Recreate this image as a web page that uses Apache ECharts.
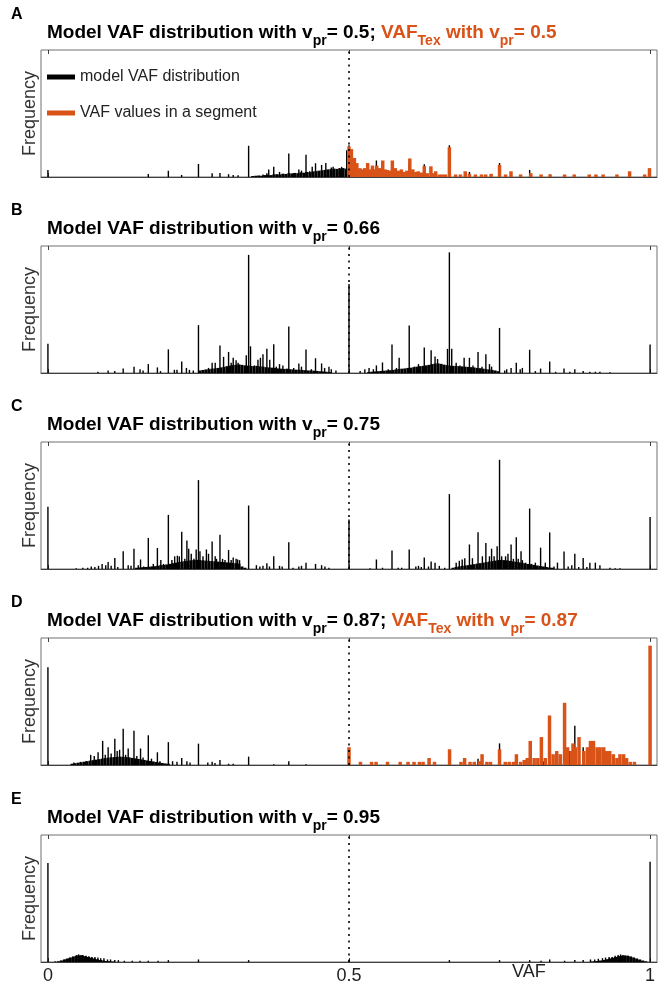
<!DOCTYPE html>
<html>
<head>
<meta charset="utf-8">
<script src="https://cdn.jsdelivr.net/npm/echarts@6/dist/echarts.min.js"></script>
<style>
  html, body { margin: 0; background: #fff; }
  #chart { width: 660px; height: 985px; }
</style>
</head>
<body>
<div id="chart"></div>
<script>
// ---- data: [VAF, frequency (% of axis height)] ----
// panel A, v_pr = 0.5
const aBlack = [[0,5.5],[0.1667,2.4],[0.2,4.9],[0.222,1.6],[0.25,10.3],[0.2727,3],[0.2857,3.2],[0.3,2.2],[0.3077,1.6],[0.3158,1.4],
  [0.3333,24.6],[0.3571,2],[0.3636,3],[0.3667,6],[0.375,8],[0.3846,4],[0.4,18.6],[0.4074,3],[0.4167,6],[0.4211,5],[0.4286,17.6],
  [0.4348,4.5],[0.4389,8],[0.4444,10.8],[0.4545,9.5],[0.4615,11],[0.4706,7.5],[0.4737,8],[0.48,6],[0.4839,7],[0.4878,8],[0.4962,21],[0.5,25],
  [0.5455,13],[0.5714,10],[0.6,10],[0.625,10],[0.6667,25],[0.7,4],[0.75,11],[0.8,5.5],[0.8333,2],[1,4]];
const aBodyStart = 0.34;
const aBody = [0.8,1,1.2,1,1.5,1.8,1.5,2,2.2,2,2.6,2.4,3,2.8,3.2,3,3.6,3.4,4,3.8,4.4,4.6,5,5.2,5.6,6,6.2,6.6,6.4,6.8,7,6.6];
const aOrange = [[0.5,24],[0.504,22],[0.509,15],[0.513,11],[0.518,7],[0.522,6],[0.526,7],[0.531,11],[0.535,6],[0.539,9],[0.543,6],
  [0.546,9],[0.551,7],[0.556,13],[0.56,6],[0.564,5.5],[0.568,5],[0.572,13],[0.577,7],[0.582,5],[0.587,6],[0.591,4],[0.596,5],
  [0.601,14.6],[0.606,6],[0.611,4],[0.615,4.5],[0.62,3.5],[0.625,8.6],[0.63,3],[0.636,8.4],[0.64,3],[0.644,4.5],[0.65,2],[0.655,2],
  [0.66,2],[0.6667,23.5],[0.677,2],[0.685,2],[0.693,4.5],[0.7,2.5],[0.71,2],[0.72,2],[0.727,2],[0.736,2.5],[0.75,9.5],[0.76,2],
  [0.769,4.5],[0.785,2],[0.802,3],[0.819,2],[0.834,2],[0.858,2],[0.874,2],[0.899,2],[0.91,2],[0.922,2],[0.945,2],[0.966,4.5],[0.991,2],[0.999,7]];

// panel B, v_pr = 0.66
const bBlack = [[0,23],[0.083,1],[0.1,2],[0.111,1.5],[0.125,3.6],[0.143,5],[0.153,3],[0.158,2],[0.1667,7],[0.1818,4.4],[0.187,1.5],
  [0.2,18.6],[0.21,2.5],[0.2143,2.5],[0.2222,9],[0.23,4],[0.235,2.5],[0.2414,2],[0.25,37.7],[0.2667,4],[0.2727,8],[0.2778,8],
  [0.2857,21.6],[0.2917,12.7],[0.3,16.6],[0.3043,8],[0.3077,12],[0.3125,10],[0.3158,8],[0.3214,6],[0.3294,14],[0.3333,93],[0.3364,21],
  [0.3429,6],[0.3488,10.5],[0.3529,12],[0.3571,14.7],[0.3636,19],[0.3684,10.5],[0.375,22.7],[0.3793,5],[0.3846,7],[0.3902,6],[0.4,36.6],
  [0.4082,4],[0.4167,7.5],[0.4211,5],[0.4286,18.6],[0.4375,3],[0.4444,11.6],[0.4545,7.5],[0.4595,4],[0.4667,5],[0.4706,3],[0.4783,2],[0.5,70],
  [0.5185,1.5],[0.5263,3],[0.5333,4],[0.5405,3],[0.5455,6],[0.5556,8.3],[0.5652,3],[0.5714,22.4],[0.5789,4],[0.5833,12],[0.5882,3],
  [0.6,37.4],[0.6087,5],[0.6154,7],[0.625,20],[0.6316,6],[0.6364,18],[0.6429,13],[0.6471,11],[0.6538,7],[0.6636,19],[0.6667,95],[0.6706,19],
  [0.678,8],[0.6842,6],[0.6912,12],[0.7,12],[0.7059,6],[0.7143,16.6],[0.7209,5],[0.7273,14.7],[0.7333,7],[0.7368,5],[0.75,35.5],[0.7586,2],
  [0.7619,3],[0.7692,4],[0.7778,8],[0.7843,3],[0.7879,4],[0.8,18.3],[0.8095,1.5],[0.8182,3.5],[0.8333,9],[0.8431,1],[0.8571,3.6],[0.8667,1],
  [0.875,3],[0.8889,1.5],[0.9,1],[0.9091,1],[0.9167,1],[0.9333,0.5],[1,22.4]];
const bBodyLStart = 0.255;
const bBodyL = [2,2.4,2.8,3,3.4,3.6,4,4.4,4.8,5.4,5.8,6.2,6.4,6.8,6.4,6,5.8,5.6,5.4,5.6,5.2,5,4.6,4.4,4.2,4,3.6,3.4,3.2,3.4,3,2.8,2.6,2.6,2.4,2.2,2,2,1.8,1.6,1.4,1.2,1,0.8];
const bBodyRStart = 0.53;
const bBodyR = [0.8,1,1.2,1.4,1.6,1.8,2,2.2,2.4,2.8,3,3.4,3.6,4,4.2,4.6,5,5.4,5.6,6,6.4,7,7.4,7.6,7.2,6.6,6.2,5.8,5.6,5.6,5.4,5.2,5,4.8,4.6,4.4,4,3.8,3.4,3,2.8,2.4,2,1.4];

// panel C, v_pr = 0.75
const cBlack = [[0,49],[0.047,0.5],[0.058,1],[0.066,1],[0.072,2],[0.078,1.5],[0.084,2.5],[0.09,4],[0.096,3],[0.1,5.5],[0.105,2.5],
  [0.1111,8.7],[0.116,1.5],[0.125,14],[0.1333,3],[0.138,2.5],[0.1429,16],[0.15,3],[0.1538,7.5],[0.159,2],[0.1667,24.4],[0.175,4],
  [0.1818,16.5],[0.1875,7],[0.192,4],[0.2,42.6],[0.2059,7],[0.2105,10],[0.215,10.5],[0.2182,10],[0.2222,29.4],[0.2273,8],[0.2308,22.4],
  [0.2338,16],[0.238,12],[0.2424,8],[0.2462,15.4],[0.25,70],[0.2525,14],[0.2575,10],[0.2632,15.4],[0.2667,12],[0.2727,21.6],[0.2778,10],
  [0.28,8],[0.2857,27],[0.29,8],[0.2941,7],[0.3,15],[0.3043,7],[0.3077,9],[0.3125,8],[0.315,7.5],[0.3182,7],[0.3333,50],[0.3462,3],
  [0.352,2],[0.3571,2.5],[0.3636,4.5],[0.368,2],[0.375,10],[0.3846,2.5],[0.389,2],[0.4,21],[0.407,1],[0.4167,2],[0.4211,2.5],[0.4286,5],
  [0.4444,4],[0.4545,3],[0.46,2],[0.4667,1],[0.5,39],
  [0.535,0.5],[0.5455,7.5],[0.5556,1],[0.5714,14.6],[0.5818,1],[0.5875,1],[0.6,15.4],[0.611,2],[0.6154,2.5],[0.62,1.5],[0.625,9],
  [0.632,2],[0.6364,6],[0.6429,5],[0.65,2.5],[0.659,1],[0.6667,59],[0.678,5],[0.6832,6.5],[0.688,7.5],[0.6923,8.4],[0.7,19.3],[0.705,8.5],
  [0.7143,29],[0.7215,10],[0.7273,20.4],[0.7333,10],[0.7368,16],[0.741,10],[0.746,18],[0.75,86],[0.7535,10],[0.76,10],[0.764,12],
  [0.7692,19.3],[0.773,8],[0.7778,25],[0.781,8],[0.7857,14],[0.788,7],[0.793,5],[0.8,47.6],[0.803,4],[0.8095,5],[0.8182,16.8],[0.826,5],
  [0.8333,28.8],[0.8405,2],[0.8462,5],[0.8571,13.7],[0.864,2],[0.87,3],[0.875,12],[0.8815,1.5],[0.8889,8.7],[0.895,1.5],[0.9,5],[0.9091,5],
  [0.9167,3],[0.9333,1],[0.942,0.5],[0.95,0.5],[1,41]];
const cBodyLStart = 0.15;
const cBodyL = [1,1.2,1.4,1.6,1.8,2,2.2,2.6,3,3.2,3.6,4,4.6,5,5.4,5.8,6.2,6.4,6.8,7,7.2,7,6.8,6.6,6.4,6.2,6,5.8,5.6,5.4,5.2,5,4.8,4.6,4.2,2,1];
const cBodyRStart = 0.67;
const cBodyR = [1,1.6,2,2.4,2.8,3,3.4,3.8,4.2,4.6,5,5.4,5.8,6.2,6.6,7,7.2,7,6.8,6.4,6,5.6,5.2,4.8,4.4,4,3.6,3.2,2.8,2.4,2,1.6,1.2,1];

// panel D, v_pr = 0.87
const dBlack = [[0,77],[0.043,2],[0.054,2.5],[0.063,3],[0.071,8],[0.0769,7],[0.0833,10],[0.0909,19],[0.0952,8],[0.1,14],[0.105,9],
  [0.1111,20.7],[0.115,11],[0.119,12],[0.125,28.6],[0.129,8],[0.1333,13],[0.1429,27],[0.1476,7],[0.1538,13],[0.158,6],[0.1667,23.4],
  [0.172,5],[0.1818,10],[0.186,3],[0.2,18],[0.207,3],[0.2143,2.5],[0.2222,5.5],[0.2308,3],[0.236,2],[0.25,16.8],[0.2655,2],[0.2727,2.5],
  [0.2775,1.5],[0.2857,4],[0.3,1],[0.3077,1],[0.3333,6.6],[0.375,0.5],[0.4,3],[0.4286,0.5],[0.5,13],
  [0.7143,5],[0.75,17],[0.7857,2],[0.8235,3],[0.8462,9],[0.8571,10],[0.8667,11],[0.875,31],[0.8889,14],[0.9,8],[0.9143,11],[1,77]];
const dBodyStart = 0.04;
const dBody = [1,1.4,1.8,2.2,2.6,3,3.4,3.8,4.2,4.6,5,5.4,5.8,6,6.2,6.4,6.6,6.4,6.2,6,5.6,5.2,4.8,4.4,4,3.6,3.2,2.8,2.4,2,1.6,1.2,1];
const dOrange = [[0.5,14],[0.519,2.5],[0.5375,2.5],[0.545,2.5],[0.564,2.5],[0.585,2.5],[0.598,2.5],[0.608,2.5],[0.617,2.5],[0.623,2.5],
  [0.633,5.5],[0.642,2.5],[0.667,12.4],[0.686,2.5],[0.692,5.5],[0.701,2.5],[0.708,2.5],[0.717,3],[0.721,8.5],[0.729,2.5],[0.735,2.5],
  [0.75,12.4],[0.7595,2.5],[0.766,2.5],[0.773,2.5],[0.778,8.5],[0.785,2.5],[0.791,4],[0.796,5.5],[0.801,19],[0.8075,5.5],[0.8136,5.5],
  [0.8195,22],[0.826,5.5],[0.833,39],[0.839,8.5],[0.845,11],[0.851,8.5],[0.858,49],[0.863,14],[0.869,11],[0.872,17],[0.876,14],[0.882,22],
  [0.89,11],[0.896,14],[0.901,19],[0.906,19],[0.912,14],[0.917,14],[0.923,14],[0.928,11],[0.933,11],[0.939,8.5],[0.945,5.5],[0.95,8.5],
  [0.956,8.5],[0.961,5.5],[0.967,2.5],[0.974,2.5],[1,94]];

// panel E, v_pr = 0.95
const eBlack = [[0,78],[0.012,0.5],[0.022,1],[0.028,2],[0.035,3],[0.0415,4],[0.048,5.5],[0.051,6],[0.055,5.5],[0.058,5.5],[0.063,5],
  [0.068,4.5],[0.073,4],[0.078,4],[0.083,3.5],[0.0876,3],[0.093,3],[0.099,2],[0.104,2],[0.111,1.5],[0.117,1.5],[0.127,1],[0.14,1],
  [0.153,1],[0.1667,1],[0.183,1],[0.2,1.5],[0.25,2],[0.3333,1.5],[0.5,2],[0.6667,1.5],[0.75,1.5],[0.8,1.5],[0.819,1],[0.8333,2],
  [0.858,1],[0.875,1.5],[0.8889,1.5],[0.901,2],[0.908,2],[0.914,2.5],[0.921,3],[0.926,3.5],[0.932,4],[0.937,4],[0.942,5],[0.947,5.5],
  [0.951,6],[0.955,5.5],[0.959,4.5],[0.964,3.5],[0.968,2.5],[0.974,1.5],[0.98,1],[0.987,0.5],[1,79]];
const eBodyLStart = 0.02;
const eBodyL = [0.6,1.2,2,2.8,3.6,4.4,5,5.2,5,4.6,4,3.4,2.8,2.2,1.6,1.2,0.8,0.6,0.4];
const eBodyRStart = 0.9;
const eBodyR = [0.4,0.6,0.8,1.2,1.6,2.2,2.8,3.4,4,4.6,5,5.2,5,4.4,3.6,2.8,2,1.2,0.6];

const xTicks = [0, 0.5, 1];
const binStep = 0.005;

// ---- layout / style ----
const font = '"Liberation Sans", Arial, Helvetica, sans-serif';
const orange = '#D95319';
const tops = [50, 246, 442, 638, 835];
const boxH = 127;
const xMin = -0.0115, xMax = 1.0115;

function bins(start, heights) {
  return heights.map((h, i) => [+(start + i * binStep).toFixed(4), h]);
}

const panels = [
  { letter: 'A', black: aBlack, bodies: [bins(aBodyStart, aBody)], orange: aOrange,
    title: '{k|Model VAF distribution with v}{ks|pr}{k|= 0.5; }{o|VAF}{os|Tex}{o| with v}{os|pr}{o|= 0.5}' },
  { letter: 'B', black: bBlack, bodies: [bins(bBodyLStart, bBodyL), bins(bBodyRStart, bBodyR)],
    title: '{k|Model VAF distribution with v}{ks|pr}{k|= 0.66}' },
  { letter: 'C', black: cBlack, bodies: [bins(cBodyLStart, cBodyL), bins(cBodyRStart, cBodyR)],
    title: '{k|Model VAF distribution with v}{ks|pr}{k|= 0.75}' },
  { letter: 'D', black: dBlack, bodies: [bins(dBodyStart, dBody)], orange: dOrange,
    title: '{k|Model VAF distribution with v}{ks|pr}{k|= 0.87; }{o|VAF}{os|Tex}{o| with v}{os|pr}{o|= 0.87}' },
  { letter: 'E', black: eBlack, bodies: [bins(eBodyLStart, eBodyL), bins(eBodyRStart, eBodyR)],
    title: '{k|Model VAF distribution with v}{ks|pr}{k|= 0.95}' }
];

const rich = {
  k: { fontFamily: font, fontSize: 19, fontWeight: 'bold', color: '#000', lineHeight: 30 },
  ks: { fontFamily: font, fontSize: 14, fontWeight: 'bold', color: '#000', lineHeight: 14, verticalAlign: 'bottom' },
  o: { fontFamily: font, fontSize: 19, fontWeight: 'bold', color: orange, lineHeight: 30 },
  os: { fontFamily: font, fontSize: 14, fontWeight: 'bold', color: orange, lineHeight: 14, verticalAlign: 'bottom' }
};

const grids = [], xAxes = [], yAxes = [], series = [], titles = [];

panels.forEach((p, i) => {
  grids.push({ left: 41, right: 3, top: tops[i], height: boxH, show: true,
    borderColor: '#707070', borderWidth: 1, backgroundColor: 'transparent' });

  const last = i === panels.length - 1;
  // bottom axis (spikes)
  xAxes.push({
    gridIndex: i, type: 'value', min: xMin, max: xMax, position: 'bottom',
    axisLine: { show: true, lineStyle: { color: '#404040', width: 1 } },
    axisTick: { show: true, inside: true, length: 4, customValues: xTicks, lineStyle: { color: '#404040' } },
    axisLabel: { show: last, customValues: xTicks, margin: 5, fontSize: 18, fontFamily: font, color: '#222',
      formatter: v => String(v) },
    splitLine: { show: false }
  });
  // top axis (ticks, dense body)
  xAxes.push({
    gridIndex: i, type: 'value', min: xMin, max: xMax, position: 'top',
    axisLine: { show: false },
    axisTick: { show: true, inside: true, length: 4, customValues: xTicks, lineStyle: { color: '#404040' } },
    axisLabel: { show: false }, splitLine: { show: false }
  });
  // hidden axis for the segment bars
  xAxes.push({ gridIndex: i, type: 'value', min: xMin, max: xMax, show: false });

  yAxes.push({
    gridIndex: i, type: 'value', min: 0, max: 100,
    name: 'Frequency', nameLocation: 'middle', nameGap: 2,
    nameTextStyle: { fontSize: 18, fontFamily: font, color: '#333' },
    axisLine: { show: false }, axisTick: { show: false }, axisLabel: { show: false }, splitLine: { show: false }
  });

  p.bodies.forEach(b => {
    series.push({ type: 'bar', name: 'body' + p.letter, xAxisIndex: 3 * i + 1, yAxisIndex: i, data: b,
      barWidth: 3, itemStyle: { color: '#000' }, z: 2, silent: true });
  });

  series.push({
    type: 'bar', name: i === 0 ? 'model VAF distribution' : 'model ' + p.letter,
    xAxisIndex: 3 * i, yAxisIndex: i, data: p.black, barWidth: 1.4,
    itemStyle: { color: '#000' }, z: 2, silent: true,
    markLine: {
      silent: true, symbol: ['none', 'none'], label: { show: false },
      lineStyle: { type: [2, 4.5], color: '#000', width: 1.6 },
      data: [{ xAxis: 0.5 }], z: 6
    }
  });

  if (p.orange) {
    series.push({
      type: 'bar', name: i === 0 ? 'VAF values in a segment' : 'segment ' + p.letter,
      xAxisIndex: 3 * i + 2, yAxisIndex: i, data: p.orange, barWidth: 3.5,
      itemStyle: { color: orange }, z: 3, silent: true
    });
  }

  titles.push({ text: p.letter, left: 11, top: tops[i] - 43, padding: 0,
    textStyle: { fontFamily: font, fontSize: 16, fontWeight: 'bold', color: '#000' } });
  titles.push({ text: p.title, left: 47, top: tops[i] - 32, padding: 0,
    textStyle: { rich: rich } });
});

const chart = echarts.init(document.getElementById('chart'));
chart.setOption({
  animation: false,
  backgroundColor: '#fff',
  title: titles,
  legend: {
    data: ['model VAF distribution', 'VAF values in a segment'],
    orient: 'vertical', left: 47, top: 69, padding: 0, itemWidth: 28, itemHeight: 5, itemGap: 20,
    icon: 'rect', selectedMode: false,
    textStyle: { fontSize: 16, fontFamily: font, color: '#222' }
  },
  grid: grids,
  xAxis: xAxes,
  yAxis: yAxes,
  series: series,
  graphic: [{
    type: 'text', left: 512, top: 963,
    style: { text: 'VAF', fontSize: 18, fontFamily: font, fill: '#222' }
  }]
});
</script>
</body>
</html>
